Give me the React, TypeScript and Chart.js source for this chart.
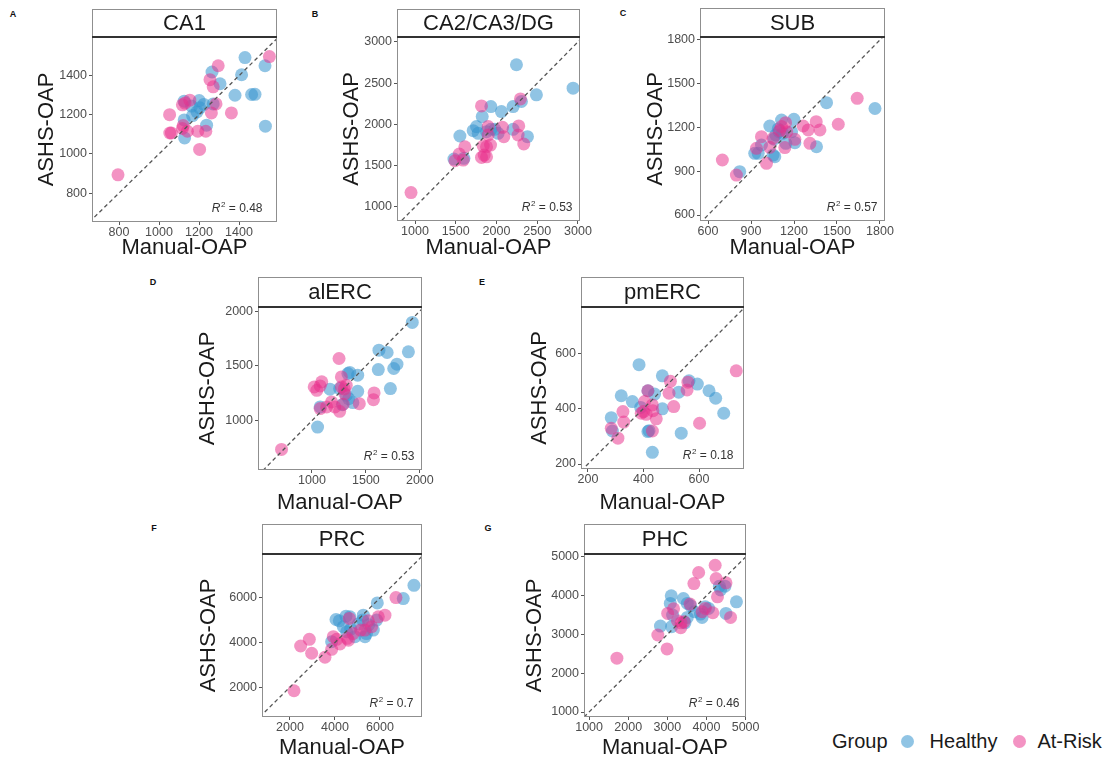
import React, { useEffect, useRef } from 'react';
import { Chart, registerables } from 'chart.js';

Chart.register(...registerables);

const FONT = '"Liberation Sans", Arial, Helvetica, sans-serif';

// ---------- data ----------
const groupNames = ['Healthy', 'At-Risk'];
const regions = ['CA1', 'CA2/CA3/DG', 'SUB', 'alERC', 'pmERC', 'PRC', 'PHC'];
const panelLetters = ['A', 'B', 'C', 'D', 'E', 'F', 'G'];
const rSquared = ['0.48', '0.53', '0.57', '0.53', '0.18', '0.7', '0.46'];

const ca1Healthy = [[1126,1270],[1126,1174],[1128,1082],[1163,1245],[1168,1196],[1201,1273],[1204,1236],[1224,1253],[1238,1147],[1265,1419],[1305,1359],[1380,1300],[1413,1405],[1430,1493],[1463,1304],[1480,1305],[1530,1451],[1532,1142],[1271,1256],[1190,1215]];
const ca1AtRisk = [[795,893],[1053,1201],[1054,1107],[1062,1107],[1117,1251],[1154,1275],[1117,1130],[1142,1116],[1194,1116],[1203,1023],[1234,1116],[1255,1380],[1271,1343],[1262,1210],[1285,1256],[1296,1451],[1362,1210],[1552,1498],[1121,1145],[1130,1260]];

const ca23Healthy = [[1478,1580],[1551,1860],[1600,1590],[1714,1925],[1755,1974],[1776,1892],[1825,2095],[1878,1913],[1931,2217],[1931,1941],[1980,1941],[2020,1892],[2061,2156],[2204,2217],[2204,1941],[2245,2724],[2306,2278],[2490,2359],[2380,1852],[2940,2440]];
const ca23AtRisk = [[951,1174],[1490,1560],[1543,1641],[1592,1568],[1612,1730],[1816,1600],[1816,2225],[1837,1738],[1849,1629],[1878,1730],[1878,1608],[1898,1974],[1927,1750],[1898,1872],[2090,1852],[2074,1965],[2265,1872],[2273,1982],[2294,2310],[2335,1763]];

const subHealthy = [[821,897],[926,1023],[950,1023],[973,1080],[1031,1210],[1054,1011],[1066,1000],[1073,1149],[1096,1171],[1113,1251],[1143,1091],[1183,1171],[1199,1256],[1206,1096],[1357,1068],[1427,1370],[1765,1330],[1090,1190],[1120,1160],[1060,1120]];
const subAtRisk = [[700,977],[798,874],[938,1057],[973,1137],[1008,954],[1031,1064],[1054,1126],[1113,1206],[1141,1233],[1136,1062],[1206,1119],[1264,1210],[1299,1183],[1311,1091],[1355,1240],[1381,1183],[1509,1222],[1641,1400],[1100,1180],[1150,1170]];

const alercHealthy = [[1052,942],[1076,1125],[1167,1287],[1257,1293],[1282,1146],[1318,1232],[1333,1430],[1350,1440],[1379,1165],[1424,1415],[1424,1268],[1621,1643],[1697,1622],[1615,1466],[1727,1293],[1758,1476],[1788,1515],[1894,1628],[1930,1896],[1340,1200]];
const alercAtRisk = [[718,738],[1021,1308],[1045,1277],[1091,1354],[1076,1110],[1136,1125],[1182,1171],[1212,1125],[1251,1567],[1257,1085],[1273,1399],[1273,1308],[1303,1247],[1318,1323],[1290,1150],[1439,1155],[1576,1253],[1570,1192],[1076,1317],[1300,1290]];

const pmercHealthy = [[284,367],[288,319],[320,446],[360,425],[384,558],[390,404],[416,464],[416,317],[432,242],[440,452],[468,518],[468,399],[527,459],[536,311],[564,500],[594,488],[636,464],[660,437],[689,383],[420,320]];
const pmercAtRisk = [[284,329],[308,293],[326,389],[329,351],[392,383],[404,425],[400,389],[410,379],[432,413],[434,392],[432,319],[446,363],[492,455],[497,498],[509,407],[557,467],[560,495],[602,347],[734,536],[416,464]];

const prcHealthy = [[3851,4037],[4044,5033],[4192,4974],[4370,4706],[4488,5182],[4666,5152],[4518,4483],[4888,4260],[5259,5227],[5229,5004],[5333,4260],[5500,4800],[5703,4558],[5851,5004],[5881,5777],[5400,4400],[7035,5970],[7509,6565],[5036,4825],[4700,4600]];
const prcAtRisk = [[2178,1836],[2474,3844],[2859,4141],[2963,3517],[3555,3338],[3851,3695],[3925,4260],[4222,3933],[4547,4186],[4636,5078],[4600,4100],[5140,4558],[5333,4558],[5481,4974],[5629,4706],[5925,5152],[6221,5227],[6710,6015],[4074,4141],[4800,4400]];

const phcHealthy = [[2824,3218],[3075,3801],[3109,3201],[3134,3501],[3410,3929],[3510,3441],[3510,3801],[3594,3741],[3694,3587],[3845,3527],[3887,3441],[3970,3715],[4054,3672],[4330,4246],[4473,4246],[4498,3544],[4360,4150],[4766,3844],[3450,3300],[3100,4000]];
const phcAtRisk = [[1711,2388],[2757,2987],[2992,2628],[3008,3544],[3159,3664],[3259,3356],[3343,3176],[3427,3330],[3580,3784],[3678,4315],[3800,4600],[3970,3672],[4222,4786],[4247,4443],[4281,3972],[4498,4332],[4615,3441],[4163,3561],[3887,3587],[3350,3300]];

const ca1Ticks = [800, 1000, 1200, 1400];
const ca23Ticks = [1000, 1500, 2000, 2500, 3000];
const subTicks = [600, 900, 1200, 1500, 1800];
const alercTicks = [1000, 1500, 2000];
const pmercTicks = [200, 400, 600];
const prcTicks = [2000, 4000, 6000];
const phcTicks = [1000, 2000, 3000, 4000, 5000];

const xLimits = [[665,1590],[779,3025],[544,1835],[500,2020],[175,762],[756,7867],[870,5010]];
const yLimits = [[652,1598],[830,3060],[559,1820],[550,2037],[182,766],[658,7970],[871,5077]];

const panelData = [
  [ca1Healthy, ca1AtRisk, ca1Ticks],
  [ca23Healthy, ca23AtRisk, ca23Ticks],
  [subHealthy, subAtRisk, subTicks],
  [alercHealthy, alercAtRisk, alercTicks],
  [pmercHealthy, pmercAtRisk, pmercTicks],
  [prcHealthy, prcAtRisk, prcTicks],
  [phcHealthy, phcAtRisk, phcTicks],
];

// ---------- layout (page pixels) ----------
const layouts = [
  { L: 92, T: 37, R: 277, B: 222, S: 9, yt: 45, xt: 26, rr: 15, letter: [13, 14] },
  { L: 397, T: 37, R: 580, B: 221, S: 9, yt: 45, xt: 27, rr: 8, letter: [315, 14] },
  { L: 700, T: 37, R: 885, B: 221, S: 8, yt: 44, xt: 27, rr: 8, letter: [623, 13] },
  { L: 258, T: 307, R: 422, B: 470, S: 277, yt: 50, xt: 33, rr: 8, letter: [153, 282] },
  { L: 581, T: 307, R: 744, B: 469, S: 277, yt: 41, xt: 34, rr: 11, letter: [482, 282] },
  { L: 262, T: 554, R: 422, B: 717, S: 524, yt: 53, xt: 31, rr: 9, letter: [154, 528] },
  { L: 584, T: 554, R: 746, B: 717, S: 524, yt: 49, xt: 31, rr: 7, letter: [488, 528] },
];

const HEALTHY = 'rgba(52,148,206,0.55)';
const ATRISK = 'rgba(232,48,140,0.52)';
const PAD_R = 16;

function geom(i: number) {
  const l = layouts[i];
  const yW = Math.round(l.yt + 13.2);
  const xH = Math.round(l.xt + 13.2);
  const left = l.L - yW;
  const top = l.S - 2;
  const padTop = l.T - top;
  const W = yW + (l.R - l.L) + PAD_R;
  const H = padTop + (l.B - l.T) + xH;
  return { yW, xH, left, top, padTop, W, H, stripH: l.T - l.S };
}

const decorPlugin = {
  id: 'panelDecor',
  afterDraw(chart: any, _args: any, opts: any) {
    const { ctx } = chart;
    const { left, top, right, bottom } = chart.chartArea;
    const sh = opts.stripH;
    ctx.save();
    ctx.fillStyle = '#ffffff';
    ctx.fillRect(left, top - sh, right - left, sh);
    ctx.strokeStyle = '#8f8f8f';
    ctx.lineWidth = 1;
    ctx.strokeRect(left + 0.5, top - sh + 0.5, right - left - 1, sh);
    ctx.strokeRect(left + 0.5, top + 0.5, right - left - 1, bottom - top - 1);
    ctx.strokeStyle = '#333333';
    ctx.lineWidth = 1.8;
    ctx.beginPath();
    ctx.moveTo(left, top);
    ctx.lineTo(right, top);
    ctx.stroke();
    ctx.fillStyle = '#1a1a1a';
    ctx.font = `22px ${FONT}`;
    ctx.textAlign = 'center';
    ctx.textBaseline = 'middle';
    ctx.fillText(opts.title, (left + right) / 2, top - sh / 2 + 1);

    const rest = ' = ' + opts.r2;
    ctx.textAlign = 'left';
    ctx.textBaseline = 'alphabetic';
    ctx.font = `12px ${FONT}`;
    const wRest = ctx.measureText(rest).width;
    ctx.font = `8px ${FONT}`;
    const wSup = ctx.measureText('2').width;
    ctx.font = `italic 12px ${FONT}`;
    const wR = ctx.measureText('R').width;
    const ry = bottom - 10;
    let x = right - opts.rr - wRest - wSup - wR;
    ctx.fillStyle = '#333333';
    ctx.fillText('R', x, ry);
    x += wR + 0.5;
    ctx.font = `8px ${FONT}`;
    ctx.fillText('2', x, ry - 5);
    x += wSup;
    ctx.font = `12px ${FONT}`;
    ctx.fillText(rest, x, ry);
    ctx.restore();
  },
};

function PanelChart({ index }: { index: number }) {
  const ref = useRef<HTMLCanvasElement | null>(null);
  const g = geom(index);
  useEffect(() => {
    const [healthy, atRisk, ticks] = panelData[index] as any;
    const xl = xLimits[index];
    const yl = yLimits[index];
    const lo = Math.min(xl[0], yl[0]);
    const hi = Math.max(xl[1], yl[1]);
    const toPts = (arr: number[][]) => arr.map(([x, y]) => ({ x, y }));
    const tickFont = { family: FONT, size: 12.5 };
    const titleFont = { family: FONT, size: 22 };
    const fmt = (v: any) => String(v);
    const fixY = (s: any) => {
      s.width = g.yW;
      s.paddingTop = 0; s.paddingBottom = 0; s.paddingLeft = 0; s.paddingRight = 0;
    };
    const fixX = (s: any) => {
      s.height = g.xH;
      s.paddingTop = 0; s.paddingBottom = 0; s.paddingLeft = 0; s.paddingRight = 0;
    };
    const chart = new Chart(ref.current as HTMLCanvasElement, {
      type: 'scatter',
      data: {
        datasets: [
          {
            type: 'line',
            label: 'identity',
            data: [{ x: lo, y: lo }, { x: hi, y: hi }],
            borderColor: '#555555',
            borderWidth: 1.3,
            borderDash: [4, 3],
            pointRadius: 0,
            fill: false,
          } as any,
          {
            label: groupNames[1],
            data: toPts(atRisk),
            backgroundColor: ATRISK,
            borderWidth: 0,
            pointRadius: 6.5,
          },
          {
            label: groupNames[0],
            data: toPts(healthy),
            backgroundColor: HEALTHY,
            borderWidth: 0,
            pointRadius: 6.5,
          },
        ],
      },
      options: {
        animation: false,
        responsive: false,
        maintainAspectRatio: false,
        events: [],
        layout: { padding: { left: 0, right: PAD_R, top: g.padTop, bottom: 0 } },
        plugins: {
          legend: { display: false },
          tooltip: { enabled: false },
          panelDecor: { title: regions[index], r2: rSquared[index], stripH: g.stripH, rr: layouts[index].rr },
        } as any,
        scales: {
          x: {
            type: 'linear',
            min: xl[0],
            max: xl[1],
            afterBuildTicks: (s: any) => { s.ticks = ticks.map((v: number) => ({ value: v })); },
            afterFit: fixX,
            grid: { display: true, drawOnChartArea: false, drawTicks: true, tickLength: 3, color: '#555555', lineWidth: 1 },
            border: { display: false },
            ticks: { color: '#4d4d4d', font: tickFont, padding: 0, maxRotation: 0, autoSkip: false, callback: fmt },
            title: { display: true, text: 'Manual-OAP', color: '#1a1a1a', font: titleFont, padding: 0 },
          },
          y: {
            type: 'linear',
            min: yl[0],
            max: yl[1],
            afterBuildTicks: (s: any) => { s.ticks = ticks.map((v: number) => ({ value: v })); },
            afterFit: fixY,
            grid: { display: true, drawOnChartArea: false, drawTicks: true, tickLength: 3, color: '#555555', lineWidth: 1 },
            border: { display: false },
            ticks: { color: '#4d4d4d', font: tickFont, padding: 2, autoSkip: false, callback: fmt },
            title: { display: true, text: 'ASHS-OAP', color: '#1a1a1a', font: titleFont, padding: 0 },
          },
        },
      },
      plugins: [decorPlugin],
    } as any);
    return () => chart.destroy();
  }, [index]);
  return (
    <canvas
      ref={ref}
      width={g.W}
      height={g.H}
      style={{ position: 'absolute', left: g.left, top: g.top, width: g.W, height: g.H }}
    />
  );
}

export default function App() {
  return (
    <div
      style={{
        position: 'fixed', left: 0, top: 0, width: 1116, height: 760,
        overflow: 'hidden', background: '#ffffff', fontFamily: FONT,
      }}
    >
      {regions.map((_, i) => (
        <PanelChart key={i} index={i} />
      ))}
      {panelLetters.map((t, i) => (
        <div
          key={t}
          style={{
            position: 'absolute', left: layouts[i].letter[0], top: layouts[i].letter[1],
            transform: 'translate(-50%, -50%)', fontSize: 9, fontWeight: 'bold', lineHeight: 1, color: '#111',
          }}
        >
          {t}
        </div>
      ))}
      <div style={{ position: 'absolute', left: 832, top: 728, height: 26, display: 'flex', alignItems: 'center', fontSize: 20, color: '#1a1a1a', whiteSpace: 'nowrap' }}>
        <span>Group</span>
        <span style={{ display: 'inline-block', width: 13, height: 13, borderRadius: '50%', background: HEALTHY, marginLeft: 13 }} />
        <span style={{ marginLeft: 16 }}>{groupNames[0]}</span>
        <span style={{ display: 'inline-block', width: 13, height: 13, borderRadius: '50%', background: ATRISK, marginLeft: 16 }} />
        <span style={{ marginLeft: 11 }}>{groupNames[1]}</span>
      </div>
    </div>
  );
}
